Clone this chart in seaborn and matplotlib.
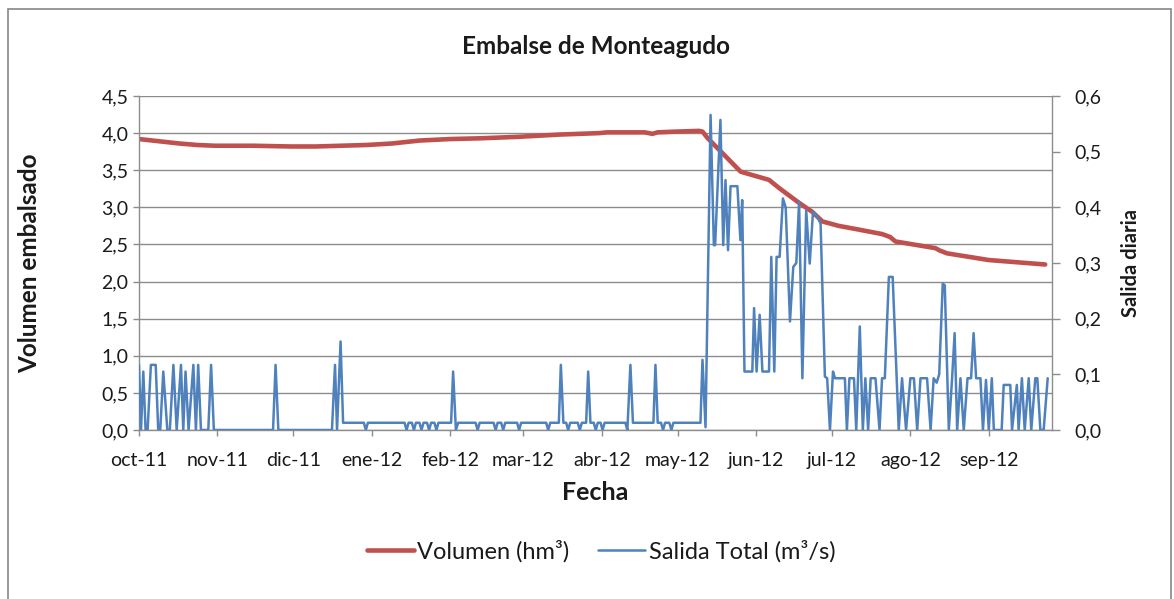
import matplotlib
matplotlib.use("Agg")
import matplotlib.pyplot as plt
from matplotlib.ticker import FuncFormatter, MultipleLocator
from matplotlib.patches import Rectangle
from matplotlib.lines import Line2D
import seaborn as sns
import pandas as pd

start = pd.Timestamp("2011-10-01")

# Volumen embalsado (hm3): days since 1 oct 2011 and value
vol_day = [0, 8, 16, 23, 30, 45, 60, 70, 80, 90, 100, 111, 123, 135, 150,
           166, 182, 185, 200, 203, 205, 212, 221.5, 222.8, 224.9, 230.7,
           237.9, 249.1, 253.1, 261.0, 266.2, 270.2, 276.7, 284.6, 293.8,
           297.0, 299.1, 314.9, 316.5, 319.5, 336.0, 358.3]
vol_val = [3.92, 3.89, 3.86, 3.84, 3.83, 3.83, 3.82, 3.82, 3.83, 3.84, 3.86,
           3.90, 3.92, 3.93, 3.95, 3.98, 4.00, 4.01, 4.01, 3.99, 4.01, 4.02,
           4.03, 4.02, 3.93, 3.73, 3.48, 3.37, 3.26, 3.06, 2.94, 2.81, 2.75,
           2.70, 2.64, 2.60, 2.54, 2.45, 2.42, 2.38, 2.29, 2.23]

# Salida total (m3/s): days since 1 oct 2011 and value
sal_day = [
    # oct-dic
    0.0, 0.8, 1.7, 2.6, 3.4, 4.7, 6.6, 7.6, 8.4, 9.6, 11.2, 12.2, 13.6, 14.9,
    16.6, 17.5, 18.4, 19.6, 21.5, 22.5, 23.4, 24.5, 27.4, 28.5, 29.6, 53.0,
    54.0, 55.1, 76.3, 77.5, 78.3, 79.7, 80.7,
    # dic-feb
    88.9, 89.7, 90.5, 105.0, 105.8, 106.6, 107.9, 108.7, 109.5, 110.9, 111.7,
    112.5, 113.9, 114.7, 115.5, 116.8, 117.6, 118.4, 123.4, 124.2, 125.3,
    126.2, 133.1, 133.9, 134.7, 140.2, 141.0, 141.8, 143.2, 144.0, 144.8,
    149.5, 150.3, 151.1,
    # mar-may
    161.0, 161.8, 162.6, 166.0, 166.8, 167.8, 168.9, 169.7, 170.5, 173.5,
    174.3, 175.1, 176.8, 177.6, 178.5, 179.8, 180.6, 181.4, 182.5, 183.3,
    184.1, 192.3, 193.1, 194.3, 195.3, 203.4, 204.2, 205.1, 206.4, 207.2,
    208.0, 209.7, 210.5, 211.3, 222.0, 222.8, 224.0,
    # may-jul
    226.0, 227.3, 227.8, 229.9, 231.0, 231.9, 232.9, 233.9, 236.6, 237.8,
    238.5, 239.4, 242.5, 243.2, 244.2, 245.4, 246.5, 249.1, 250.0, 251.2,
    252.1, 253.3, 254.6, 255.7, 257.4, 258.7, 259.9, 261.0, 262.3, 263.8,
    265.2, 266.5, 267.8, 269.5, 271.2, 272.1, 273.2, 274.4, 275.2, 279.1,
    279.9, 280.9, 282.7,
    # jul-sep
    283.6, 285.0, 286.2, 287.2, 288.3, 289.3, 291.2, 292.8, 293.8, 294.9,
    296.5, 298.0, 300.4, 301.7, 303.3, 305.0, 306.4, 307.7, 309.0, 311.6,
    313.0, 314.2, 315.4, 316.4, 317.8, 318.6, 320.2, 321.5, 322.5, 323.5,
    324.8, 326.1, 327.6, 329.0, 330.0, 331.0, 332.7, 333.7, 334.9, 336.0,
    337.2, 338.0, 341.1, 341.9, 344.5, 345.2, 347.1, 347.8, 349.1, 350.2,
    351.8, 352.8, 354.4, 355.2, 356.4, 357.7, 359.3,
]
sal_val = [
    # oct-dic
    0.117, 0.0, 0.105, 0.0, 0.0, 0.117, 0.117, 0.0, 0.0, 0.105, 0.0, 0.0,
    0.117, 0.0, 0.117, 0.0, 0.105, 0.0, 0.117, 0.0, 0.117, 0.0, 0.0, 0.117,
    0.0, 0.0, 0.117, 0.0, 0.0, 0.117, 0.0, 0.159, 0.013,
    # dic-feb
    0.013, 0.0, 0.013, 0.013, 0.0, 0.013, 0.013, 0.0, 0.013, 0.013, 0.0,
    0.013, 0.013, 0.0, 0.013, 0.013, 0.0, 0.013, 0.013, 0.105, 0.0, 0.013,
    0.013, 0.0, 0.013, 0.013, 0.0, 0.013, 0.013, 0.0, 0.013, 0.013, 0.0,
    0.013,
    # mar-may
    0.013, 0.0, 0.013, 0.013, 0.117, 0.013, 0.013, 0.0, 0.013, 0.013, 0.0,
    0.013, 0.013, 0.105, 0.013, 0.013, 0.0, 0.013, 0.013, 0.0, 0.013, 0.013,
    0.0, 0.117, 0.013, 0.013, 0.117, 0.013, 0.013, 0.0, 0.013, 0.013, 0.0,
    0.013, 0.013, 0.126, 0.005,
    # may-jul
    0.566, 0.332, 0.332, 0.557, 0.332, 0.449, 0.323, 0.438, 0.438, 0.341,
    0.413, 0.105, 0.105, 0.219, 0.105, 0.207, 0.105, 0.105, 0.311, 0.105,
    0.311, 0.311, 0.416, 0.400, 0.195, 0.293, 0.300, 0.410, 0.093, 0.395,
    0.299, 0.392, 0.386, 0.371, 0.096, 0.093, 0.0, 0.105, 0.093, 0.093,
    0.0, 0.093, 0.093,
    # jul-sep
    0.0, 0.186, 0.0, 0.093, 0.0, 0.093, 0.093, 0.0, 0.093, 0.093, 0.275,
    0.275, 0.0, 0.093, 0.0, 0.093, 0.093, 0.0, 0.093, 0.093, 0.0, 0.093,
    0.085, 0.100, 0.263, 0.260, 0.0, 0.093, 0.174, 0.0, 0.093, 0.0, 0.093,
    0.093, 0.174, 0.093, 0.093, 0.0, 0.090, 0.0, 0.093, 0.0, 0.0, 0.081,
    0.081, 0.0, 0.081, 0.0, 0.093, 0.0, 0.093, 0.0, 0.093, 0.093, 0.0, 0.0,
    0.093,
]

month_labels = ["oct-11", "nov-11", "dic-11", "ene-12", "feb-12", "mar-12",
                "abr-12", "may-12", "jun-12", "jul-12", "ago-12", "sep-12"]

vol_df = pd.DataFrame({"fecha": start + pd.to_timedelta(vol_day, unit="D"),
                       "volumen": vol_val})
sal_df = pd.DataFrame({"fecha": start + pd.to_timedelta(sal_day, unit="D"),
                       "salida": sal_val})

sns.set_style("white")
plt.rcParams["font.family"] = ["Lato", "DejaVu Sans"]

red = "#C0504D"
blue = "#4F81BD"
grey = "#8C8C8C"
txt = "#1a1a1a"

W, H = 1174, 599
fig = plt.figure(figsize=(W / 100, H / 100), dpi=100)
ax = fig.add_axes([139 / W, 1 - 430 / H, (1052 - 139) / W, (430 - 96) / H])
ax2 = ax.twinx()

sns.lineplot(data=vol_df, x="fecha", y="volumen", ax=ax, color=red,
             linewidth=3.3, estimator=None, sort=False)
sns.lineplot(data=sal_df, x="fecha", y="salida", ax=ax2, color=blue,
             linewidth=1.8, estimator=None, sort=False)
for l in ax.lines + ax2.lines:
    l.set_solid_joinstyle("round")
    l.set_solid_capstyle("round")

comma = FuncFormatter(lambda v, p: f"{v:.1f}".replace(".", ","))

ax.set_ylim(0, 4.5)
ax.yaxis.set_major_locator(MultipleLocator(0.5))
ax.yaxis.set_major_formatter(comma)
ax2.set_ylim(0, 0.6)
ax2.yaxis.set_major_locator(MultipleLocator(0.1))
ax2.yaxis.set_major_formatter(comma)

ax.set_xlim(start, start + pd.Timedelta(days=361))
ticks = pd.date_range(start, periods=len(month_labels), freq="MS")
ax.set_xticks(ticks)
ax.set_xticklabels(month_labels)

ax.yaxis.grid(True, color=grey, linewidth=1)
ax.xaxis.grid(False)
ax2.grid(False)
ax.set_axisbelow(True)

for a in (ax, ax2):
    for s in a.spines.values():
        s.set_visible(False)
ax.spines["left"].set_visible(True)
ax.spines["bottom"].set_visible(True)
ax2.spines["right"].set_visible(True)
for s in (ax.spines["left"], ax.spines["bottom"], ax2.spines["right"]):
    s.set_color(grey)
    s.set_linewidth(1)

ax.tick_params(axis="y", length=4.5, width=1, color=grey, labelsize=14,
               labelcolor=txt, pad=3, left=True)
ax.tick_params(axis="x", length=4.5, width=1, color=grey, labelsize=14,
               labelcolor=txt, pad=11, bottom=True)
ax2.tick_params(axis="y", length=6, width=1, color=grey, labelsize=14,
                labelcolor=txt, pad=10, right=True)

ax.set_xlabel("Fecha", fontsize=18, fontweight="bold", color=txt, labelpad=9)
ax.set_ylabel("Volumen embalsado", fontsize=17.5, fontweight="bold", color=txt)
ax.yaxis.set_label_coords((41 - 139) / 913, 0.5)
ax2.set_ylabel("Salida diaria", fontsize=14.5, fontweight="bold", color=txt,
               rotation=90)
ax2.yaxis.set_label_coords((1121 - 139) / 913, 0.5)

fig.text(596 / W, 1 - 47 / H, "Embalse de Monteagudo", ha="center",
         va="center", fontsize=17.5, fontweight="bold", color=txt)

handles = [Line2D([], [], color=red, linewidth=3.3),
           Line2D([], [], color=blue, linewidth=1.8)]
fig.legend(handles, ["Volumen (hm³)", "Salida Total (m³/s)"], loc="center",
           bbox_to_anchor=(601 / W, 1 - 551 / H), ncol=2, frameon=False,
           fontsize=17, handlelength=2.0, handletextpad=0.15,
           columnspacing=1.2, labelcolor=txt)

fig.patches.append(Rectangle((8 / W, -0.02), (1171 - 8) / W, 1.02 - 9 / H,
                             transform=fig.transFigure, fill=False,
                             edgecolor="#868686", linewidth=1.2))

fig.savefig("out.png", dpi=100)
